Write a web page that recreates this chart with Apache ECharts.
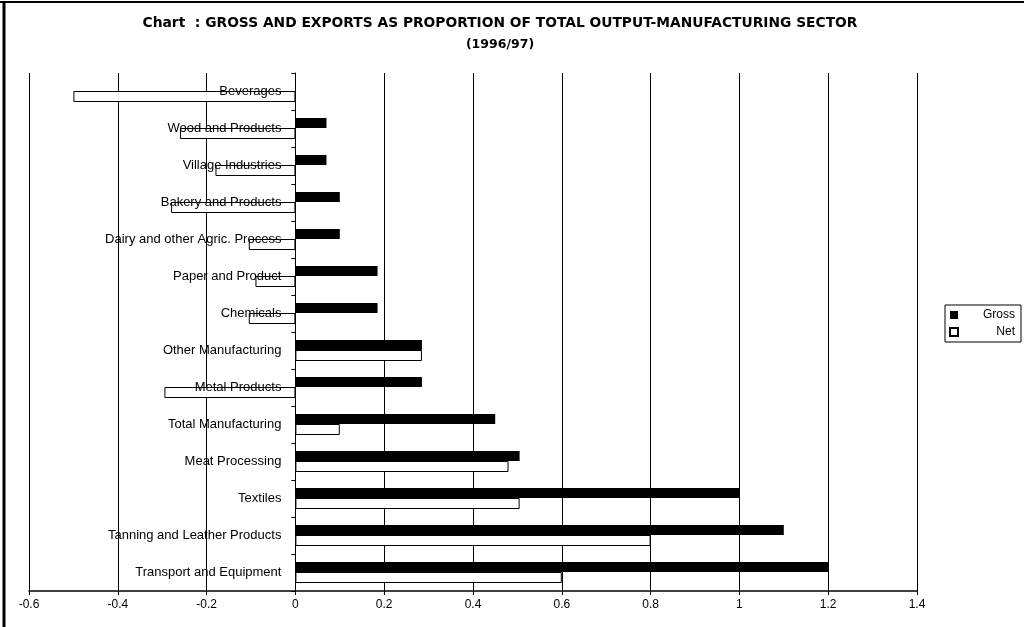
<!DOCTYPE html>
<html><head><meta charset="utf-8">
<script src="https://cdn.jsdelivr.net/npm/echarts@6/dist/echarts.min.js"></script>
<style>html,body{margin:0;padding:0;background:#fff}#c{width:1024px;height:627px}</style>
</head><body><div id="c"></div>
<script>
const categories = ["Beverages","Wood and Products","Village Industries","Bakery and Products","Dairy and other Agric. Process","Paper and Product","Chemicals","Other Manufacturing","Metal Products","Total Manufacturing","Meat Processing","Textiles","Tanning and Leather Products","Transport and Equipment"];
const gross = [0, 0.07, 0.07, 0.10, 0.10, 0.185, 0.185, 0.285, 0.285, 0.45, 0.505, 1.0, 1.1, 1.2];
const net = [-0.5, -0.26, -0.18, -0.28, -0.105, -0.09, -0.105, 0.285, -0.295, 0.10, 0.48, 0.505, 0.80, 0.60];
const xTicks = {min: -0.6, max: 1.4, interval: 0.2};

const chart = echarts.init(document.getElementById('c'), null, {renderer: 'canvas'});
const F = 'Liberation Sans, Arial, sans-serif';
const gridLeft = 29, gridRight = 107, plotW = 1024 - gridLeft - gridRight;
const zeroX = gridLeft + plotW * (0 - xTicks.min) / (xTicks.max - xTicks.min);
chart.setOption({
  backgroundColor: '#fff',
  animation: false,
  title: {
    text: 'Chart  : GROSS AND EXPORTS AS PROPORTION OF TOTAL OUTPUT-MANUFACTURING SECTOR',
    subtext: '(1996/97)',
    left: 495, textAlign: 'center', top: 11, itemGap: 8,
    textStyle: {fontFamily: 'DejaVu Sans', fontSize: 13.8, fontWeight: 'bold', color: '#000'},
    subtextStyle: {fontFamily: 'DejaVu Sans', fontSize: 12.5, fontWeight: 'bold', color: '#000'}
  },
  legend: {
    orient: 'vertical', left: 945, top: 305, width: 77,
    itemWidth: 8, itemHeight: 8, itemGap: 5, icon: 'rect',
    borderColor: '#000', borderWidth: 1, borderRadius: 0, padding: [4, 6, 4, 4],
    formatter: n => '{a|' + n + '}',
    textStyle: {fontFamily: F, fontSize: 11, color: '#000',
      rich: {a: {width: 52, align: 'right', fontFamily: F, fontSize: 12, color: '#000'}}},
    data: ['Gross', 'Net']
  },
  grid: {left: gridLeft, right: gridRight, top: 73, bottom: 36, containLabel: false, outerBoundsMode: 'none'},
  xAxis: {
    type: 'value', min: xTicks.min, max: xTicks.max, interval: xTicks.interval,
    axisLine: {show: true, onZero: false, lineStyle: {color: '#000', width: 1.5}},
    axisTick: {show: true, length: 4, lineStyle: {color: '#000'}},
    axisLabel: {fontFamily: F, fontSize: 12, color: '#000', margin: 8},
    splitLine: {show: true, lineStyle: {color: '#000', width: 1}}
  },
  yAxis: [
    {
      type: 'category', inverse: true, data: categories,
      axisLine: {show: true, onZero: true, lineStyle: {color: '#000', width: 1}},
      axisTick: {show: true, length: 4, lineStyle: {color: '#000'}},
      axisLabel: {show: false},
      splitLine: {show: false}
    },
    {
      type: 'category', inverse: true, data: categories, position: 'left',
      offset: -(zeroX - gridLeft),
      axisLine: {show: false}, axisTick: {show: false},
      axisLabel: {fontFamily: F, fontSize: 13, color: '#000', margin: 14},
      splitLine: {show: false}, z: 5
    }
  ],
  series: [
    {name: 'Gross', type: 'bar', data: gross, barWidth: 10, barGap: '0%', yAxisIndex: 0,
     itemStyle: {color: '#000', borderColor: '#000', borderWidth: 0}, z: 2},
    {name: 'Net', type: 'bar', data: net, barWidth: 11, barGap: '0%', yAxisIndex: 0,
     itemStyle: {color: '#fff', borderColor: '#000', borderWidth: 1}, z: 2}
  ],
  graphic: [
    {type: 'line', shape: {x1: 0, y1: 2, x2: 1024, y2: 2}, style: {stroke: '#000', lineWidth: 2}},
    {type: 'line', shape: {x1: 4, y1: 2, x2: 4, y2: 627}, style: {stroke: '#000', lineWidth: 3}}
  ]
});
</script></body></html>
